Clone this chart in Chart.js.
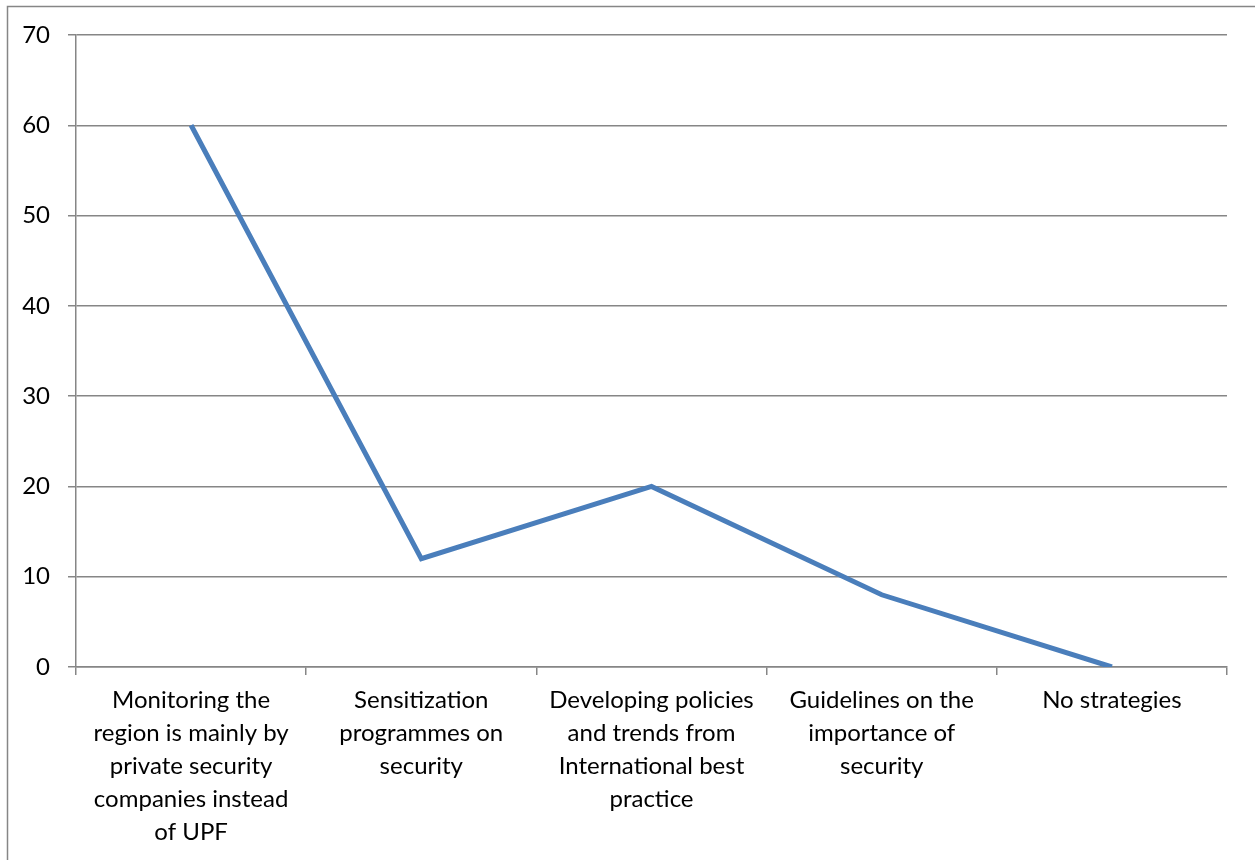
<!DOCTYPE html>
<html>
<head>
<meta charset="utf-8">
<script src="https://cdn.jsdelivr.net/npm/chart.js@4"></script>
<style>
  html, body { margin: 0; padding: 0; background: #ffffff; }
  canvas { display: block; }
</style>
</head>
<body>
<canvas id="chart" width="1255" height="860"></canvas>
<script>
// Strategies and the share of responses for each
const categories = [
  ["Monitoring the", "region is mainly by", "private security", "companies instead", "of UPF"],
  ["Sensitization", "programmes on", "security"],
  ["Developing policies", "and trends from", "International best", "practice"],
  ["Guidelines on the", "importance of", "security"],
  ["No strategies"]
];
const responses = [60, 12, 20, 8, 0];
const yTicks = [0, 10, 20, 30, 40, 50, 60, 70];

const gridGray = '#868686';
const textFont = { family: 'Lato, "Open Sans", sans-serif', size: 24 };

// Outer frame around the chart
const framePlugin = {
  id: 'frame',
  afterDraw(chart) {
    const ctx = chart.ctx;
    ctx.save();
    ctx.strokeStyle = '#868686';
    ctx.lineWidth = 1.5;
    ctx.strokeRect(7.5, 6.5, 1270, 880);
    ctx.restore();
  }
};

new Chart(document.getElementById('chart'), {
  type: 'line',
  data: {
    labels: categories,
    datasets: [{
      data: responses,
      borderColor: '#4a7ebb',
      borderWidth: 5,
      pointRadius: 0,
      tension: 0,
      fill: false
    }]
  },
  options: {
    responsive: false,
    animation: false,
    layout: { padding: { left: 10, top: 35, right: 28, bottom: 0 } },
    plugins: { legend: { display: false }, tooltip: { enabled: false } },
    scales: {
      x: {
        type: 'category',
        offset: true,
        grid: {
          offset: true,
          drawOnChartArea: false,
          color: gridGray,
          lineWidth: 1.5,
          tickLength: 8
        },
        border: { color: gridGray, width: 1.5 },
        ticks: {
          autoSkip: false,
          maxRotation: 0,
          minRotation: 0,
          padding: 9,
          color: '#000000',
          font: { ...textFont, lineHeight: 33 / 24 }
        },
        afterFit(scale) { scale.height = 193; }
      },
      y: {
        min: 0,
        max: 70,
        afterBuildTicks(scale) { scale.ticks = yTicks.map(v => ({ value: v })); },
        grid: {
          color: gridGray,
          lineWidth: 1.5,
          tickLength: 8
        },
        border: { color: gridGray, width: 1.5 },
        ticks: {
          padding: 18,
          color: '#000000',
          font: textFont
        },
        afterFit(scale) { scale.width = 66; }
      }
    }
  },
  plugins: [framePlugin]
});
</script>
</body>
</html>
